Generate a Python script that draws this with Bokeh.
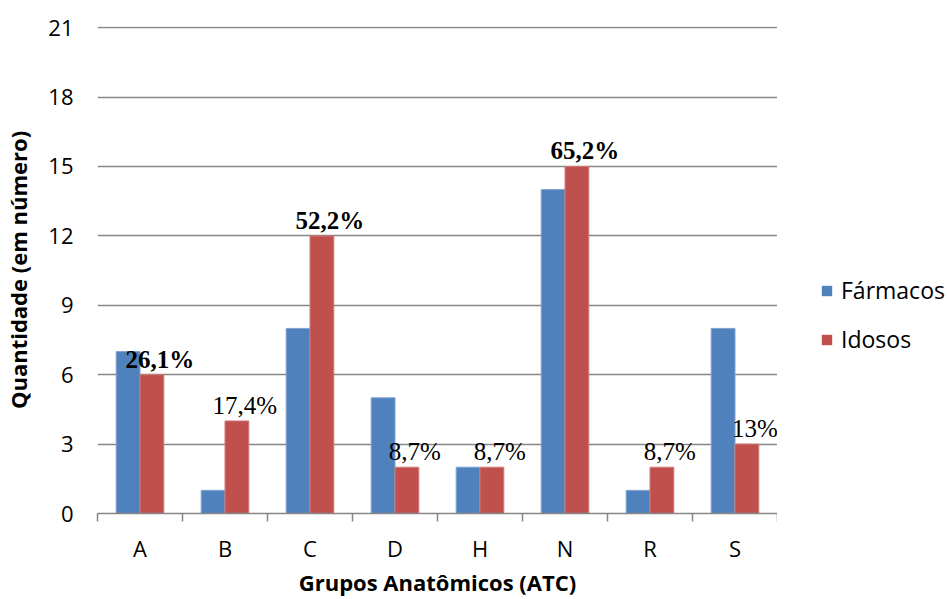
from bokeh.plotting import figure
from bokeh.layouts import row
from bokeh.models import (ColumnDataSource, Range1d, FixedTicker, Legend, LegendItem,
                          LabelSet)
from bokeh.embed import file_html
from bokeh.resources import INLINE
from bokeh.core.properties import value

categories = ["A", "B", "C", "D", "H", "N", "R", "S"]
farmacos = [7, 1, 8, 5, 2, 14, 1, 8]
idosos = [6, 4, 12, 2, 2, 15, 2, 3]
pct_labels = ["26,1%", "17,4%", "52,2%", "8,7%", "8,7%", "65,2%", "8,7%", "13%"]
pct_bold = [True, False, True, False, False, True, False, False]
y_ticks = [0, 3, 6, 9, 12, 15, 18, 21]
series_names = ["Fármacos", "Idosos"]

BLUE = "#4F81BD"
RED = "#C0504D"
GRID = "#868686"
SANS = "Open Sans"

n = len(categories)
centers = [i + 0.5 for i in range(n)]
bw = 0.28
src = ColumnDataSource(dict(
    xb=[c - bw / 2 for c in centers],
    xr=[c + bw / 2 for c in centers],
    f=farmacos, i=idosos,
))

p = figure(width=777, height=599, output_backend="svg", toolbar_location=None,
           x_range=Range1d(0, n), y_range=Range1d(0, 21.05),
           min_border_left=97, min_border_right=0, min_border_top=26,
           min_border_bottom=86)
p.outline_line_color = None
p.background_fill_color = "white"
p.border_fill_color = "white"

p.vbar(x="xb", top="f", width=bw, source=src, fill_color=BLUE,
       line_color="#7FA3D0", line_width=1)
p.vbar(x="xr", top="i", width=bw, source=src, fill_color=RED,
       line_color="#D07A78", line_width=1)

# percentage labels above the Idosos bars
for bold in (True, False):
    sub = ColumnDataSource(dict(
        x=[c + bw / 2 for c, b in zip(centers, pct_bold) if b == bold],
        y=[v for v, b in zip(idosos, pct_bold) if b == bold],
        t=[t for t, b in zip(pct_labels, pct_bold) if b == bold],
    ))
    p.add_layout(LabelSet(x="x", y="y", text="t", source=sub, x_offset=8, y_offset=2,
                          text_align="center", text_baseline="bottom",
                          text_font=value("Liberation Serif"), text_font_size="25px",
                          text_font_style="bold" if bold else "normal",
                          text_color="black"))

# grid
p.xgrid.grid_line_color = None
p.ygrid.ticker = FixedTicker(ticks=y_ticks)
p.ygrid.grid_line_color = GRID
p.ygrid.grid_line_width = 1.5

# y axis
p.yaxis.ticker = FixedTicker(ticks=y_ticks)
p.yaxis.axis_line_color = None
p.yaxis.major_tick_line_color = None
p.yaxis.major_tick_out = 0
p.yaxis.minor_tick_line_color = None
p.yaxis.major_label_standoff = 24
p.yaxis.major_label_text_font = SANS
p.yaxis.major_label_text_font_size = "22px"
p.yaxis.major_label_text_color = "black"
p.yaxis.axis_label = "Quantidade (em número)"
p.yaxis.axis_label_text_font = SANS
p.yaxis.axis_label_text_font_size = "22px"
p.yaxis.axis_label_text_font_style = "bold"
p.yaxis.axis_label_text_color = "black"
p.yaxis.axis_label_standoff = 12

# x axis: labels at centers, ticks at boundaries
p.xaxis.ticker = FixedTicker(ticks=centers, minor_ticks=list(range(n + 1)))
p.xaxis.major_label_overrides = {c: cat for c, cat in zip(centers, categories)}
p.xaxis.major_tick_line_color = None
p.xaxis.major_tick_out = 0
p.xaxis.major_tick_in = 0
p.xaxis.minor_tick_line_color = GRID
p.xaxis.minor_tick_line_width = 1.5
p.xaxis.minor_tick_in = 0
p.xaxis.minor_tick_out = 8
p.xaxis.axis_line_color = GRID
p.xaxis.axis_line_width = 1.5
p.xaxis.major_label_standoff = 11
p.xaxis.major_label_text_font = SANS
p.xaxis.major_label_text_font_size = "22px"
p.xaxis.major_label_text_color = "black"
p.xaxis.axis_label = "Grupos Anatômicos (ATC)"
p.xaxis.axis_label_text_font = SANS
p.xaxis.axis_label_text_font_size = "22px"
p.xaxis.axis_label_text_font_style = "bold"
p.xaxis.axis_label_text_color = "black"
p.xaxis.axis_label_standoff = 1

# legend in its own panel to the right of the chart; its renderers hold the
# same series but lie outside that panel's visible range
lf = figure(width=170, height=599, output_backend="svg", toolbar_location=None,
            x_range=Range1d(-100, -99), y_range=Range1d(0, 1),
            x_axis_type=None, y_axis_type=None,
            min_border_left=0, min_border_right=0, min_border_top=0,
            min_border_bottom=0)
lf.outline_line_color = None
lf.xgrid.grid_line_color = None
lf.ygrid.grid_line_color = None
lb = lf.vbar(x="xb", top="f", width=bw, source=src, fill_color=BLUE, line_color=None)
lr = lf.vbar(x="xr", top="i", width=bw, source=src, fill_color=RED, line_color=None)
legend = Legend(items=[LegendItem(label=series_names[0], renderers=[lb]),
                       LegendItem(label=series_names[1], renderers=[lr])],
                location=(43, 158), orientation="vertical",
                border_line_color=None, background_fill_alpha=0,
                padding=0, margin=0, spacing=17,
                glyph_width=13, glyph_height=13, label_height=31,
                label_standoff=8,
                label_text_font=SANS, label_text_font_size="23px",
                label_text_color="black")
lf.add_layout(legend, "center")

open("out.html", "w").write(file_html(row(p, lf), INLINE))
